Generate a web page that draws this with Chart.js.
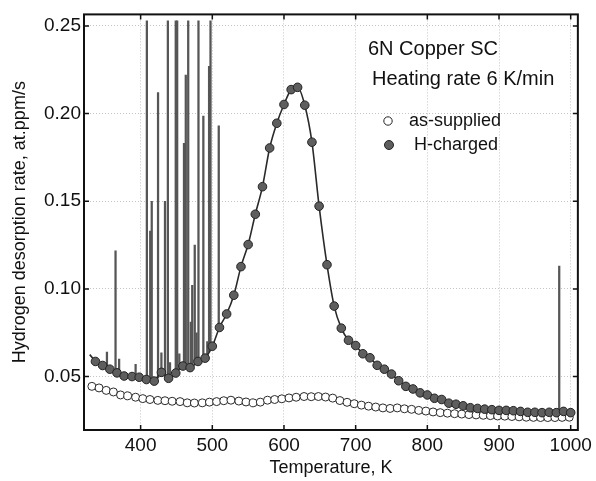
<!DOCTYPE html>
<html>
<head>
<meta charset="utf-8">
<script src="https://cdn.jsdelivr.net/npm/chart.js@4.4.0/dist/chart.umd.min.js"></script>
<style>
  html, body { margin: 0; padding: 0; background: #fff; }
  #wrap { width: 596px; height: 481px; }
</style>
</head>
<body>
<div id="wrap"><canvas id="myChart" width="596" height="481"></canvas></div>
<script>
// as-supplied (open circles)
const suppliedT = [332, 342, 352, 362, 372, 382, 393, 403, 413, 424, 434, 444, 455, 465, 475, 486, 496, 506, 516, 526,
    537, 547, 557, 567, 577, 587, 597, 607, 617, 628, 638, 648, 658, 668, 678, 688, 698, 708, 718, 728,
    738, 748, 758, 768, 778, 788, 798, 808, 818, 828, 838, 848, 858, 868, 878, 888, 898, 908, 918, 928,
    938, 948, 958, 968, 978, 988, 998];
const suppliedRate = [0.0444, 0.0435, 0.0421, 0.0412, 0.0395, 0.0390, 0.0382, 0.0374, 0.0369, 0.0364, 0.0362, 0.0359, 0.0357, 0.0350, 0.0349, 0.0350, 0.0354, 0.0357, 0.0362, 0.0365,
    0.0360, 0.0355, 0.0350, 0.0354, 0.0365, 0.0369, 0.0373, 0.0378, 0.0382, 0.0386, 0.0385, 0.0386, 0.0383, 0.0377, 0.0363, 0.0353, 0.0345, 0.0337, 0.0331, 0.0326,
    0.0321, 0.0318, 0.0321, 0.0316, 0.0313, 0.0307, 0.0303, 0.0298, 0.0294, 0.0291, 0.0288, 0.0286, 0.0283, 0.0281, 0.0279, 0.0277, 0.0275, 0.0274, 0.0272, 0.0270,
    0.0268, 0.0267, 0.0266, 0.0266, 0.0266, 0.0267, 0.0268];

// H-charged (filled circles)
const chargedT = [337, 347, 357, 367, 377, 388, 398, 408, 419, 429, 439, 449, 459, 469, 480, 490, 500, 510, 520, 530,
    540, 550, 560, 570, 580, 590, 600, 610, 619, 629, 639, 649, 660, 670, 680, 690, 700, 710, 720, 730,
    740, 750, 760, 770, 780, 790, 800, 810, 820, 830, 840, 850, 860, 870, 880, 890, 900, 910, 920, 930,
    940, 950, 960, 970, 980, 990, 1000];
const chargedRate = [0.0586, 0.0563, 0.0542, 0.0521, 0.0503, 0.0500, 0.0496, 0.0483, 0.0474, 0.0524, 0.0490, 0.0520, 0.0560, 0.0551, 0.0586, 0.0605, 0.0673, 0.0780, 0.0857, 0.0964,
    0.1127, 0.1253, 0.1426, 0.1583, 0.1804, 0.1945, 0.2052, 0.2137, 0.2150, 0.2048, 0.1837, 0.1472, 0.1138, 0.0902, 0.0776, 0.0707, 0.0677, 0.0630, 0.0607, 0.0564,
    0.0542, 0.0514, 0.0476, 0.0444, 0.0429, 0.0407, 0.0395, 0.0376, 0.0369, 0.0348, 0.0342, 0.0333, 0.0322, 0.0318, 0.0314, 0.0311, 0.0307, 0.0307, 0.0305, 0.0301,
    0.0296, 0.0296, 0.0294, 0.0296, 0.0294, 0.0301, 0.0294];

// start of the raw H-charged trace
const traceStartT = [329, 337];
const traceStartRate = [0.0625, 0.0586];

// spikes in the raw H-charged trace
const spikeT = [353, 365, 370, 393, 408.7, 413.4, 415.5, 424.3, 429, 434, 438, 441, 449, 451, 454, 460.5, 463, 466.4,
    470, 472, 475.5, 478, 480.7, 487.5, 493, 495.5, 497.5, 509, 984];
const spikeBase = [0.055, 0.052, 0.052, 0.050, 0.048, 0.048, 0.048, 0.049, 0.050, 0.050, 0.049, 0.049, 0.052, 0.052, 0.054, 0.056, 0.055, 0.055,
    0.055, 0.056, 0.057, 0.058, 0.059, 0.060, 0.062, 0.064, 0.066, 0.077, 0.030];
const spikePeak = [0.064, 0.1217, 0.060, 0.057, 0.253, 0.133, 0.150, 0.212, 0.0635, 0.150, 0.253, 0.058, 0.253, 0.253, 0.063, 0.183, 0.222, 0.253,
    0.081, 0.102, 0.125, 0.075, 0.253, 0.1986, 0.070, 0.227, 0.253, 0.193, 0.113];

const xTicks = [400, 500, 600, 700, 800, 900, 1000];
const yTicks = [0.05, 0.10, 0.15, 0.20, 0.25];

const FONT = '"Liberation Sans", Arial, Helvetica, sans-serif';
const TEXT = '#111';

function pts(xs, ys) {
    return xs.map((v, i) => ({x: v, y: ys[i]}));
}

const notes = {
    id: 'notes',
    afterDraw(chart) {
        const {ctx, chartArea: a, scales: {x, y}} = chart;
        ctx.save();
        // frame
        ctx.strokeStyle = '#111';
        ctx.lineWidth = 2;
        ctx.strokeRect(a.left, a.top, a.right - a.left, a.bottom - a.top);
        // inner tick marks
        ctx.lineWidth = 1.5;
        ctx.beginPath();
        x.ticks.forEach(t => {
            const px = x.getPixelForValue(t.value);
            ctx.moveTo(px, a.bottom); ctx.lineTo(px, a.bottom - 5);
            ctx.moveTo(px, a.top); ctx.lineTo(px, a.top + 5);
        });
        y.ticks.forEach(t => {
            const py = y.getPixelForValue(t.value);
            ctx.moveTo(a.left, py); ctx.lineTo(a.left + 5, py);
            ctx.moveTo(a.right, py); ctx.lineTo(a.right - 5, py);
        });
        ctx.stroke();

        // text
        ctx.fillStyle = TEXT;
        ctx.textBaseline = 'middle';
        ctx.textAlign = 'left';
        ctx.font = '20px ' + FONT;
        ctx.fillText('6N Copper SC', 368, 49);
        ctx.fillText('Heating rate 6 K/min', 372, 79);

        // legend
        ctx.font = '18px ' + FONT;
        ctx.lineWidth = 1;
        ctx.strokeStyle = '#222';
        ctx.fillStyle = '#fff';
        ctx.beginPath(); ctx.arc(388, 121, 4.2, 0, Math.PI * 2); ctx.fill(); ctx.stroke();
        ctx.fillStyle = '#5e5e5e';
        ctx.beginPath(); ctx.arc(389, 145, 4.5, 0, Math.PI * 2); ctx.fill(); ctx.stroke();
        ctx.fillStyle = TEXT;
        ctx.fillText('as-supplied', 409, 121);
        ctx.fillText('H-charged', 414, 145);
        ctx.restore();
    }
};

const config = {
    type: 'line',
    data: {
        datasets: [
            {
                label: 'H-charged',
                data: pts(chargedT, chargedRate),
                borderColor: '#2a2a2a',
                borderWidth: 1.6,
                backgroundColor: '#5e5e5e',
                pointBackgroundColor: '#5e5e5e',
                pointBorderColor: '#222',
                pointBorderWidth: 1,
                pointRadius: 4.3,
                cubicInterpolationMode: 'monotone',
                order: 0
            },
            {
                label: 'trace start',
                data: pts(traceStartT, traceStartRate),
                borderColor: '#2a2a2a',
                borderWidth: 1.6,
                pointRadius: 0,
                order: 2
            },
            {
                label: 'as-supplied',
                data: pts(suppliedT, suppliedRate),
                showLine: false,
                pointBackgroundColor: '#fff',
                pointBorderColor: '#2a2a2a',
                pointBorderWidth: 1,
                pointRadius: 4,
                order: 1
            },
            {
                type: 'bar',
                label: 'spikes',
                data: spikeT.map((t, i) => ({x: t, y: [spikeBase[i], spikePeak[i]]})),
                backgroundColor: '#565656',
                borderWidth: 0,
                barThickness: 1.6,
                grouped: false,
                order: 3
            }
        ]
    },
    options: {
        responsive: false,
        animation: false,
        layout: {padding: {top: 9, right: 12, left: 0, bottom: 0}},
        plugins: {
            legend: {display: false},
            tooltip: {enabled: false}
        },
        scales: {
            x: {
                type: 'linear',
                min: 321,
                max: 1010,
                offset: false,
                afterFit: s => { s.height = 51; },
                afterBuildTicks: s => { s.ticks = xTicks.map(v => ({value: v})); },
                grid: {color: '#c4c4c4', lineWidth: 1, drawTicks: false, offset: false},
                border: {display: false, dash: [1, 2]},
                ticks: {
                    padding: 4,
                    color: TEXT,
                    font: {family: FONT, size: 19},
                    maxRotation: 0,
                    callback: v => String(v)
                },
                title: {
                    display: true,
                    text: 'Temperature, K',
                    color: TEXT,
                    font: {family: FONT, size: 18},
                    padding: {top: 0, bottom: 2}
                }
            },
            y: {
                min: 0.0195,
                max: 0.2566,
                afterFit: s => { s.width = 84; },
                afterBuildTicks: s => { s.ticks = yTicks.map(v => ({value: v})); },
                grid: {color: '#c4c4c4', lineWidth: 1, drawTicks: false},
                border: {display: false, dash: [1, 2]},
                ticks: {
                    padding: 3,
                    color: TEXT,
                    font: {family: FONT, size: 19},
                    callback: v => v.toFixed(2)
                },
                title: {
                    display: true,
                    text: 'Hydrogen desorption rate, at.ppm/s',
                    color: TEXT,
                    font: {family: FONT, size: 18},
                    padding: {top: 9, bottom: 0}
                }
            }
        }
    },
    plugins: [notes]
};

const myChart = new Chart(document.getElementById('myChart'), config);
</script>
</body>
</html>
